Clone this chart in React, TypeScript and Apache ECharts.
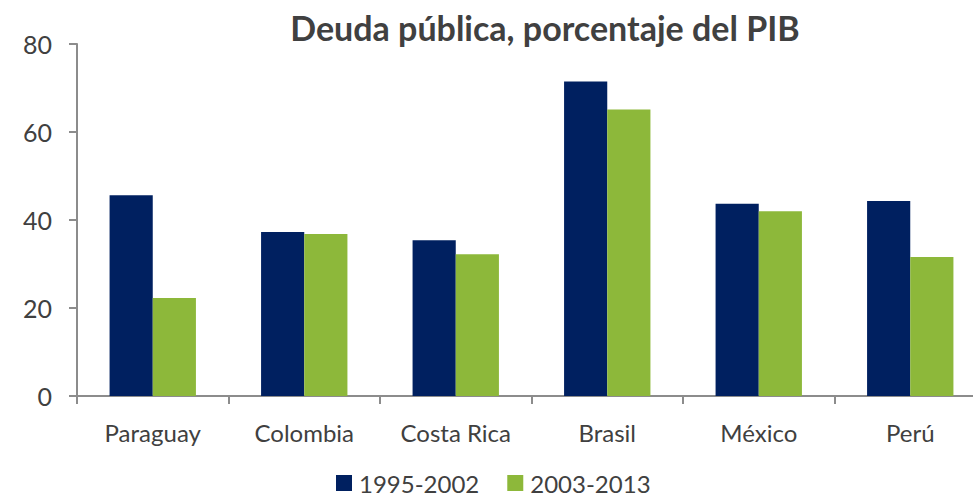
import React, { useEffect, useRef } from "react";
import * as echarts from "echarts";

const categories = ["Paraguay", "Colombia", "Costa Rica", "Brasil", "México", "Perú"];
const series1995 = [45.6, 37.3, 35.4, 71.5, 43.7, 44.3];
const series2003 = [22.3, 36.8, 32.2, 65.1, 42.0, 31.6];
const seriesNames = ["1995-2002", "2003-2013"];
const yTicks = { min: 0, max: 80, interval: 20 };

const FONT = "Lato, 'Noto Sans', sans-serif";
const TEXT = "#404040";
const AXIS = "#8c8c8c";

export default function App() {
  const ref = useRef<HTMLDivElement>(null);
  useEffect(() => {
    if (!ref.current) return;
    const chart = echarts.init(ref.current, null, { renderer: "svg" });
    chart.setOption({
      animation: false,
      title: {
        text: "Deuda pública, porcentaje del PIB",
        left: 540,
        textAlign: "center",
        top: 5,
        textStyle: { fontFamily: FONT, fontSize: 34, fontWeight: "bold", color: TEXT },
      },
      legend: {
        bottom: -4,
        left: 331,
        itemWidth: 16,
        itemHeight: 16,
        itemGap: 28,
        icon: "rect",
        textStyle: { fontFamily: FONT, fontSize: 24, color: TEXT, padding: [0, 0, 0, 2] },
        data: seriesNames,
      },
      grid: { left: 77, right: 0, top: 44, bottom: 100, containLabel: false },
      xAxis: {
        type: "category",
        data: categories,
        axisLine: { lineStyle: { color: AXIS, width: 2 } },
        axisTick: { show: true, length: 8, lineStyle: { color: AXIS, width: 2 } },
        axisLabel: { fontFamily: FONT, fontSize: 24, color: TEXT, margin: 24 },
      },
      yAxis: {
        type: "value",
        min: yTicks.min,
        max: yTicks.max,
        interval: yTicks.interval,
        axisLine: { show: true, lineStyle: { color: AXIS, width: 2 } },
        axisTick: { show: true, length: 8, lineStyle: { color: AXIS, width: 2 } },
        splitLine: { show: false },
        axisLabel: { fontFamily: FONT, fontSize: 25, color: TEXT, margin: 25 },
      },
      series: [
        {
          name: seriesNames[0],
          type: "bar",
          data: series1995,
          itemStyle: { color: "#002060" },
          barGap: "0%",
          barCategoryGap: "43%",
        },
        {
          name: seriesNames[1],
          type: "bar",
          data: series2003,
          itemStyle: { color: "#8DB83A" },
          barGap: "0%",
          barCategoryGap: "43%",
        },
      ],
    });
    return () => chart.dispose();
  }, []);
  return (
    <div style={{ width: 973, height: 496, position: "absolute", left: 0, top: 0, overflow: "hidden" }}>
      <div ref={ref} style={{ width: 986, height: 496 }} />
    </div>
  );
}
